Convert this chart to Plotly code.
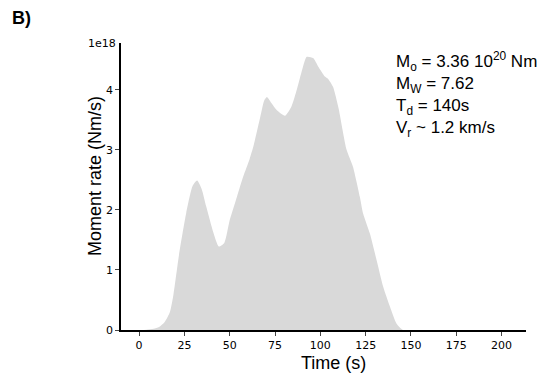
import plotly.graph_objects as go

# Source time function: time (s) and moment rate (units of 1e18 Nm/s)
time_s = [0, 4, 8, 11, 14, 17, 19, 22, 26, 29.5, 32, 34.5, 37, 41, 44, 47, 50, 54,
          57.5, 61, 63, 66.5, 69, 70.5, 73, 76, 80.5, 84, 87, 89.5, 92.5, 96, 99,
          102.5, 104.3, 107, 110, 114.5, 118, 121.8, 123.6, 127.3, 131, 134.7,
          138.4, 142, 145.7, 150]
moment_rate = [0, 0.005, 0.02, 0.05, 0.13, 0.3, 0.6, 1.25, 1.95, 2.4, 2.49, 2.35,
               2.06, 1.62, 1.39, 1.45, 1.83, 2.22, 2.56, 2.85, 3.05, 3.5, 3.82, 3.88,
               3.78, 3.66, 3.57, 3.72, 4.0, 4.28, 4.55, 4.53, 4.38, 4.22, 4.18, 4.05,
               3.7, 3.0, 2.72, 2.22, 1.94, 1.61, 1.17, 0.72, 0.39, 0.11, 0.0, 0.0]

x_ticks = [0, 25, 50, 75, 100, 125, 150, 175, 200]
y_ticks = [0, 1, 2, 3, 4]

info_lines = [
    "M<sub>o</sub> = 3.36 10<sup>20</sup> Nm",
    "M<sub>W</sub> = 7.62",
    "T<sub>d</sub> = 140s",
    "V<sub>r</sub> ~ 1.2 km/s",
]

W, H = 559, 381
L, R, T, B = 121, 33, 43, 51
plot_w, plot_h = W - L - R, H - T - B


def px_to_paper(px, py):
    """Canvas pixel position -> plot-area paper coordinates."""
    return (px - L) / plot_w, (H - B - py) / plot_h


fig = go.Figure()
fig.add_trace(go.Scatter(
    x=time_s, y=moment_rate, mode="lines",
    line=dict(width=0, color="#d9d9d9", shape="spline", smoothing=0.6),
    fill="tozeroy", fillcolor="#d9d9d9", hoverinfo="skip", showlegend=False,
))

tick_font = dict(family="DejaVu Sans", size=11, color="black")
label_font = dict(family="Liberation Sans", size=18, color="black")
axis_common = dict(ticks="outside", ticklen=4, tickwidth=1.2, showline=True,
                   linecolor="black", linewidth=1.6, showgrid=False,
                   zeroline=False, tickfont=tick_font)
fig.update_layout(
    width=W, height=H,
    margin=dict(l=L, r=R, t=T, b=B),
    paper_bgcolor="white", plot_bgcolor="white",
    xaxis=dict(range=[-10, 213.5], tickvals=x_ticks, **axis_common),
    yaxis=dict(range=[0, 4.78], tickvals=y_ticks, **axis_common),
)

annotations = []
# exponent marker above the y axis
annotations.append(dict(x=0, y=1, xref="paper", yref="paper", xanchor="right",
                        yanchor="middle", xshift=-3, text="1e18", showarrow=False,
                        font=tick_font))
# panel label
bx, by = px_to_paper(10, 18)
annotations.append(dict(x=bx, y=by, xref="paper", yref="paper", xanchor="left",
                        yanchor="middle", text="<b>B)</b>", showarrow=False,
                        font=dict(family="Liberation Sans", size=18, color="black")))
# axis titles
tx, ty = px_to_paper(333, 363)
annotations.append(dict(x=tx, y=ty, xref="paper", yref="paper", xanchor="center",
                        yanchor="middle", text="Time (s)", showarrow=False,
                        font=label_font))
yx, yy = px_to_paper(95, 176)
annotations.append(dict(x=yx, y=yy, xref="paper", yref="paper", xanchor="center",
                        yanchor="middle", text="Moment rate (Nm/s)", textangle=-90,
                        showarrow=False, font=label_font))
# source parameters
ix, iy = px_to_paper(394, 47)
annotations.append(dict(x=ix, y=iy, xref="paper", yref="paper", xanchor="left",
                        yanchor="top", text="<br>".join(info_lines), align="left",
                        showarrow=False,
                        font=dict(family="Liberation Sans", size=17, color="black")))
fig.update_layout(annotations=annotations)

fig.write_html("out.html")
